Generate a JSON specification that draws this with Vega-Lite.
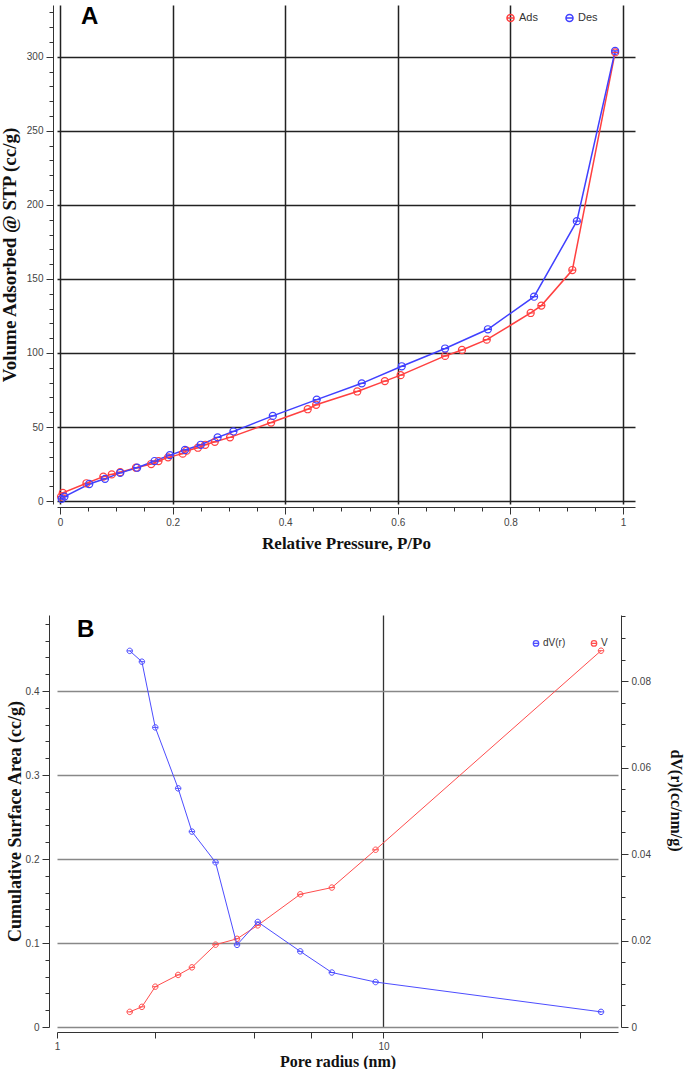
{
  "$schema": "https://vega.github.io/schema/vega-lite/v6.json",
  "background": "white",
  "padding": {"left": 0, "top": 5, "right": 0, "bottom": 0},
  "spacing": 60,
  "resolve": {"scale": {"color": "independent"}, "legend": {"color": "independent"}},
  "config": {
    "view": {"stroke": null},
    "axis": {
      "domainColor": "#333", "tickColor": "#333",
      "labelFont": "Liberation Sans", "labelFontSize": 10, "labelColor": "#444",
      "titleFont": "Liberation Serif", "titleFontSize": 16, "titleFontWeight": "bold", "titleColor": "#111",
      "labelOverlap": false, "labelFlush": false
    },
    "legend": {"labelFont": "Liberation Sans", "labelFontSize": 11, "labelColor": "#333"}
  },
  "vconcat": [
    {
      "width": 578,
      "height": 499,
      "title": {"text": "A", "anchor": "start", "frame": "group", "offset": -24, "dx": 24, "font": "Liberation Sans", "fontSize": 24, "fontWeight": "bold", "color": "black"},
      "data": {"values": [
        {"series": "Ads", "p": 0.002, "v": 3},
        {"series": "Ads", "p": 0.005, "v": 5.5},
        {"series": "Ads", "p": 0.047, "v": 12},
        {"series": "Ads", "p": 0.077, "v": 16.5},
        {"series": "Ads", "p": 0.092, "v": 18},
        {"series": "Ads", "p": 0.107, "v": 19.5},
        {"series": "Ads", "p": 0.135, "v": 22.5},
        {"series": "Ads", "p": 0.162, "v": 25},
        {"series": "Ads", "p": 0.175, "v": 27},
        {"series": "Ads", "p": 0.192, "v": 29.5},
        {"series": "Ads", "p": 0.218, "v": 32},
        {"series": "Ads", "p": 0.225, "v": 34},
        {"series": "Ads", "p": 0.245, "v": 36},
        {"series": "Ads", "p": 0.258, "v": 38},
        {"series": "Ads", "p": 0.275, "v": 40},
        {"series": "Ads", "p": 0.302, "v": 43},
        {"series": "Ads", "p": 0.375, "v": 53},
        {"series": "Ads", "p": 0.44, "v": 62},
        {"series": "Ads", "p": 0.455, "v": 65},
        {"series": "Ads", "p": 0.528, "v": 74},
        {"series": "Ads", "p": 0.577, "v": 81},
        {"series": "Ads", "p": 0.605, "v": 85},
        {"series": "Ads", "p": 0.684, "v": 98},
        {"series": "Ads", "p": 0.714, "v": 102},
        {"series": "Ads", "p": 0.758, "v": 109},
        {"series": "Ads", "p": 0.836, "v": 127},
        {"series": "Ads", "p": 0.855, "v": 132},
        {"series": "Ads", "p": 0.91, "v": 156},
        {"series": "Ads", "p": 0.986, "v": 303},
        {"series": "Des", "p": 0.003, "v": 1.5},
        {"series": "Des", "p": 0.008, "v": 3},
        {"series": "Des", "p": 0.052, "v": 11.5},
        {"series": "Des", "p": 0.08, "v": 15},
        {"series": "Des", "p": 0.107, "v": 19},
        {"series": "Des", "p": 0.137, "v": 22.5},
        {"series": "Des", "p": 0.168, "v": 27},
        {"series": "Des", "p": 0.195, "v": 31},
        {"series": "Des", "p": 0.222, "v": 34.5},
        {"series": "Des", "p": 0.25, "v": 38},
        {"series": "Des", "p": 0.28, "v": 43},
        {"series": "Des", "p": 0.308, "v": 47},
        {"series": "Des", "p": 0.378, "v": 57.5},
        {"series": "Des", "p": 0.456, "v": 68.5},
        {"series": "Des", "p": 0.536, "v": 79.5},
        {"series": "Des", "p": 0.607, "v": 91},
        {"series": "Des", "p": 0.684, "v": 103},
        {"series": "Des", "p": 0.76, "v": 116},
        {"series": "Des", "p": 0.842, "v": 138},
        {"series": "Des", "p": 0.918, "v": 189},
        {"series": "Des", "p": 0.986, "v": 304}
      ]},
      "encoding": {
        "x": {"field": "p", "type": "quantitative",
          "scale": {"domain": [-0.0053, 1.0213], "nice": false, "zero": false},
          "axis": {
            "title": "Relative Pressure, P/Po", "titleFontSize": 17, "titlePadding": 8,
            "values": [0,0.05,0.1,0.15,0.2,0.25,0.3,0.35,0.4,0.45,0.5,0.55,0.6,0.65,0.7,0.75,0.8,0.85,0.9,0.95,1],
            "labelExpr": "round(datum.value*100) % 20 == 0 ? format(datum.value, '~g') : ''",
            "tickSize": {"condition": {"test": "round(datum.value*100) % 20 == 0", "value": 7}, "value": 4},
            "grid": true, "gridColor": "#222", "gridWidth": 1.5,
            "gridOpacity": {"condition": {"test": "round(datum.value*100) % 20 == 0", "value": 1}, "value": 0},
            "offset": 3, "labelPadding": 3
          }
        },
        "y": {"field": "v", "type": "quantitative",
          "scale": {"domain": [-2, 335], "nice": false, "zero": false},
          "axis": {
            "title": "Volume Adsorbed @ STP (cc/g)", "titleFontSize": 19, "titlePadding": 7,
            "values": [0,10,20,30,40,50,60,70,80,90,100,110,120,130,140,150,160,170,180,190,200,210,220,230,240,250,260,270,280,290,300,310,320,330],
            "labelExpr": "datum.value % 50 == 0 ? format(datum.value, '~g') : ''",
            "tickSize": {"condition": {"test": "datum.value % 50 == 0", "value": 7}, "value": 4},
            "grid": true, "gridColor": "#222", "gridWidth": 1.5,
            "gridOpacity": {"condition": {"test": "datum.value % 50 == 0", "value": 1}, "value": 0},
            "offset": 4, "labelPadding": 3
          }
        },
        "color": {"field": "series", "type": "nominal",
          "scale": {"domain": ["Ads", "Des"], "range": ["#ff4040", "#4040ff"]},
          "legend": {"title": null, "orient": "none", "legendX": 448, "legendY": 7, "direction": "horizontal",
            "symbolType": "M-1,0A1,1,0,1,1,1,0A1,1,0,1,1,-1,0ZM-1,0L1,0", "symbolSize": 50, "symbolStrokeWidth": 1.5, "columnPadding": 24, "labelOffset": 3}
        }
      },
      "layer": [
        {"mark": {"type": "line", "strokeWidth": 1.5}},
        {"mark": {"type": "point", "shape": "M-1,0A1,1,0,1,1,1,0A1,1,0,1,1,-1,0ZM-1,0L1,0", "filled": false, "size": 50, "strokeWidth": 1.2, "opacity": 1}}
      ]
    },
    {
      "width": 561,
      "height": 412,
      "title": {"text": "B", "anchor": "start", "frame": "group", "offset": -31, "dx": 20, "font": "Liberation Sans", "fontSize": 24, "fontWeight": "bold", "color": "black"},
      "data": {"values": [
        {"series": "V", "r": 1.67, "val": 0.018},
        {"series": "V", "r": 1.82, "val": 0.024},
        {"series": "V", "r": 2.0, "val": 0.048},
        {"series": "V", "r": 2.35, "val": 0.062},
        {"series": "V", "r": 2.59, "val": 0.071},
        {"series": "V", "r": 3.06, "val": 0.098},
        {"series": "V", "r": 3.56, "val": 0.105},
        {"series": "V", "r": 4.12, "val": 0.121},
        {"series": "V", "r": 5.56, "val": 0.158},
        {"series": "V", "r": 6.95, "val": 0.166},
        {"series": "V", "r": 9.46, "val": 0.211},
        {"series": "V", "r": 46.4, "val": 0.448},
        {"series": "dV(r)", "r": 1.67, "val": 0.087},
        {"series": "dV(r)", "r": 1.82, "val": 0.0845},
        {"series": "dV(r)", "r": 2.0, "val": 0.0693},
        {"series": "dV(r)", "r": 2.35, "val": 0.0552},
        {"series": "dV(r)", "r": 2.59, "val": 0.0452},
        {"series": "dV(r)", "r": 3.06, "val": 0.0381},
        {"series": "dV(r)", "r": 3.56, "val": 0.019},
        {"series": "dV(r)", "r": 4.12, "val": 0.0243},
        {"series": "dV(r)", "r": 5.56, "val": 0.0175},
        {"series": "dV(r)", "r": 6.95, "val": 0.0126},
        {"series": "dV(r)", "r": 9.46, "val": 0.0104},
        {"series": "dV(r)", "r": 46.4, "val": 0.0035}
      ]},
      "encoding": {
        "x": {"field": "r", "type": "quantitative",
          "scale": {"type": "log", "domain": [1, 52.3], "nice": false},
          "axis": {
            "title": "Pore radius (nm)", "titlePadding": 2,
            "values": [1,2,4,6,8,10,20,40],
            "labelExpr": "(datum.value == 1 || datum.value == 10) ? format(datum.value, '~g') : ''",
            "tickSize": 6,
            "grid": true, "gridColor": "#333", "gridWidth": 1.3,
            "gridOpacity": {"condition": {"test": "datum.value == 10", "value": 1}, "value": 0},
            "offset": 5, "labelPadding": 3
          }
        },
        "color": {"field": "series", "type": "nominal",
          "scale": {"domain": ["dV(r)", "V"], "range": ["#4d4dff", "#ff4d4d"]},
          "legend": {"title": null, "orient": "none", "legendX": 474, "legendY": 23, "direction": "horizontal",
            "symbolType": "M-1,0A1,1,0,1,1,1,0A1,1,0,1,1,-1,0ZM-1,0L1,0", "symbolSize": 30, "symbolStrokeWidth": 1.2, "columnPadding": 22, "labelOffset": 2, "labelFontSize": 10}
        }
      },
      "layer": [
        {
          "transform": [{"filter": "datum.series === 'V'"}],
          "encoding": {
            "y": {"field": "val", "type": "quantitative",
              "scale": {"domain": [0, 0.4905], "nice": false, "zero": false},
              "axis": {
                "orient": "left", "title": "Cumulative Surface Area (cc/g)", "titleFontSize": 18, "titlePadding": 1,
                "values": [0,0.02,0.04,0.06,0.08,0.1,0.12,0.14,0.16,0.18,0.2,0.22,0.24,0.26,0.28,0.3,0.32,0.34,0.36,0.38,0.4,0.42,0.44,0.46,0.48],
                "labelExpr": "round(datum.value*100) % 10 == 0 ? format(datum.value, '~g') : ''",
                "tickSize": {"condition": {"test": "round(datum.value*100) % 10 == 0", "value": 7}, "value": 4},
                "grid": true, "gridColor": "#888", "gridWidth": 1.5,
                "gridOpacity": {"condition": {"test": "round(datum.value*100) % 10 == 0", "value": 1}, "value": 0},
                "offset": 8, "labelPadding": 3
              }
            }
          },
          "layer": [
            {"mark": {"type": "line", "strokeWidth": 1}},
            {"mark": {"type": "point", "shape": "M-1,0A1,1,0,1,1,1,0A1,1,0,1,1,-1,0ZM-1,0L1,0", "filled": false, "size": 30, "strokeWidth": 1, "opacity": 1}}
          ]
        },
        {
          "transform": [{"filter": "datum.series === 'dV(r)'"}],
          "encoding": {
            "y": {"field": "val", "type": "quantitative",
              "scale": {"domain": [0, 0.0953], "nice": false, "zero": false},
              "axis": {
                "orient": "right", "title": "dV(r)(cc/nm/g)", "titleFontSize": 16, "titlePadding": 17, "titleY": 185,
                "values": [0,0.005,0.01,0.015,0.02,0.025,0.03,0.035,0.04,0.045,0.05,0.055,0.06,0.065,0.07,0.075,0.08,0.085,0.09,0.095],
                "labelExpr": "round(datum.value*1000) % 20 == 0 ? format(datum.value, '~g') : ''",
                "tickSize": {"condition": {"test": "round(datum.value*1000) % 20 == 0", "value": 7}, "value": 4},
                "grid": false,
                "offset": 3, "labelPadding": 3
              }
            }
          },
          "layer": [
            {"mark": {"type": "line", "strokeWidth": 1}},
            {"mark": {"type": "point", "shape": "M-1,0A1,1,0,1,1,1,0A1,1,0,1,1,-1,0ZM-1,0L1,0", "filled": false, "size": 30, "strokeWidth": 1, "opacity": 1}}
          ]
        }
      ],
      "resolve": {"scale": {"y": "independent"}}
    }
  ]
}
